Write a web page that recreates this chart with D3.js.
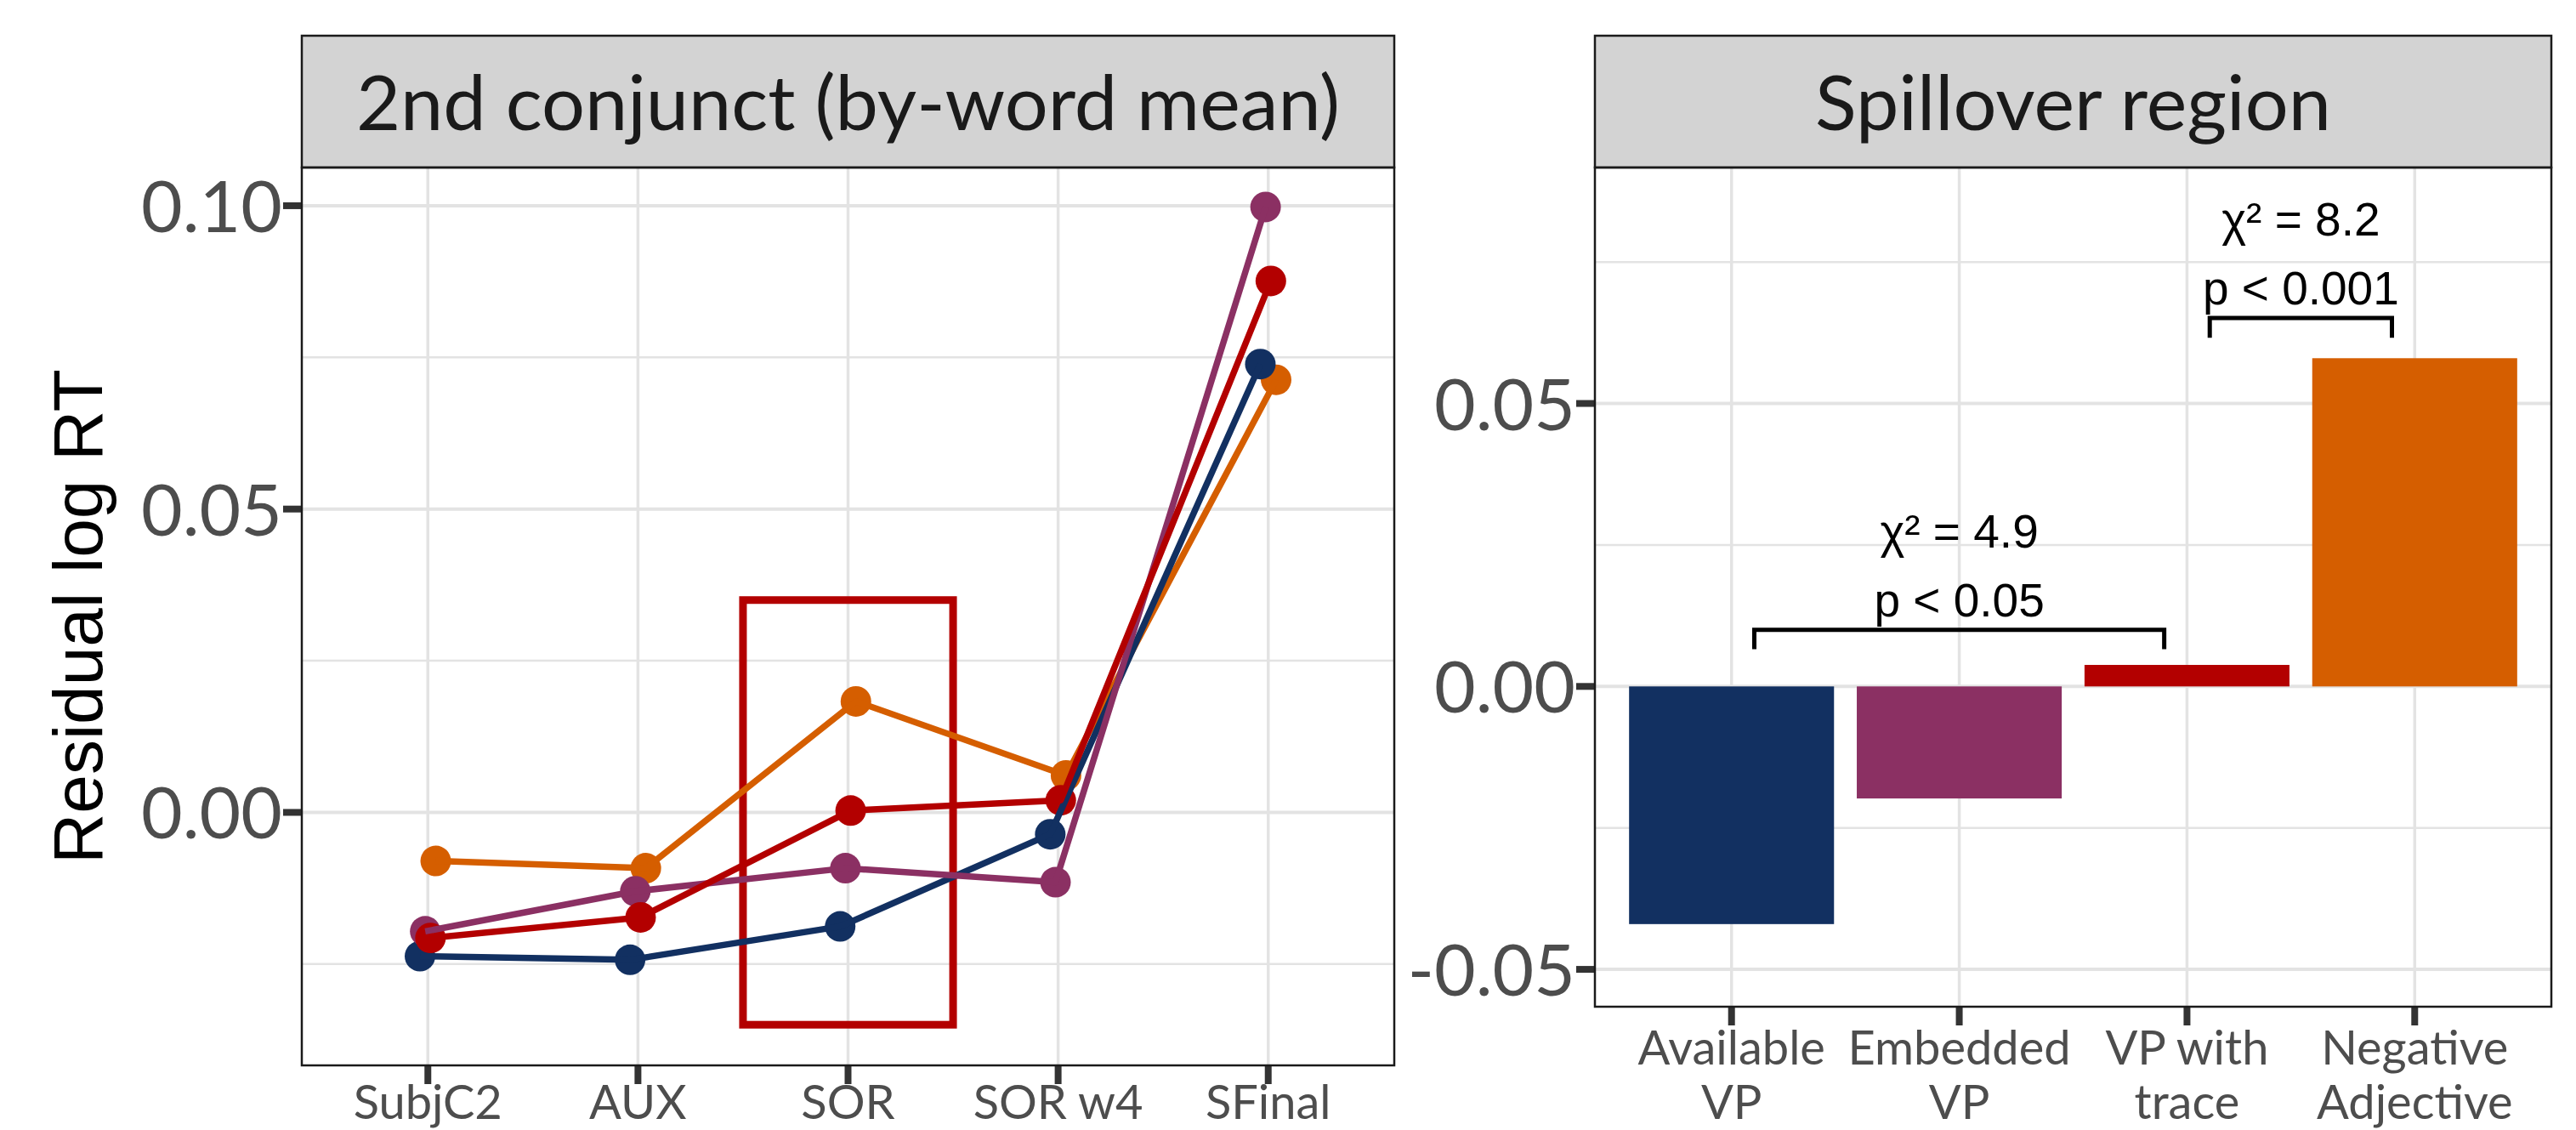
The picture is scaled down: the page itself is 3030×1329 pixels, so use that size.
<!DOCTYPE html>
<html>
<head>
<meta charset="utf-8">
<script src="https://cdn.jsdelivr.net/npm/d3@7"></script>
<style>
  html, body { margin: 0; padding: 0; background: #ffffff; }
  svg { display: block; }
</style>
</head>
<body>
<svg id="chart" width="3030" height="1329"></svg>
<script>
// ---------------- DATA ----------------
const lineCategories = ["SubjC2", "AUX", "SOR", "SOR w4", "SFinal"];
const seriesNames = ["Available VP", "Embedded VP", "VP with trace", "Negative Adjective"];
const seriesColors = ["#123061", "#8B3063", "#B30000", "#D55E00"];
const availableVP = [-0.0237, -0.0243, -0.0188, -0.0036, 0.0739];
const embeddedVP = [-0.0196, -0.0130, -0.0092, -0.0115, 0.0998];
const vpWithTrace = [-0.0207, -0.0173, 0.0003, 0.0020, 0.0876];
const negativeAdjective = [-0.0080, -0.0092, 0.0183, 0.0061, 0.0713];
const drawOrder = [3, 0, 1, 2];

const leftTicks = [0.00, 0.05, 0.10];
const leftTickLabels = ["0.00", "0.05", "0.10"];
const leftMinor = [-0.025, 0.025, 0.075];
const highlightBox = { xmin: 2.5, xmax: 3.5, ymin: -0.035, ymax: 0.035 };

const barCategories = [["Available", "VP"], ["Embedded", "VP"], ["VP with", "trace"], ["Negative", "Adjective"]];
const barValues = [-0.0420, -0.0198, 0.0038, 0.0580];
const rightTicks = [-0.05, 0.00, 0.05];
const rightTickLabels = ["-0.05", "0.00", "0.05"];
const rightMinor = [-0.025, 0.025, 0.075];

const bracketFrom = [1.1, 3.1];
const bracketTo = [2.9, 3.9];
const bracketY = [0.0100, 0.0651];
const bracketTip = [0.0066, 0.0616];
const bracketChi = ["χ² = 4.9", "χ² = 8.2"];
const bracketP = ["p < 0.05", "p < 0.001"];

const stripTitles = ["2nd conjunct (by-word mean)", "Spillover region"];
const yTitle = "Residual log RT";

// ---------------- LAYOUT ----------------
const svg = d3.select("#chart");
const STRIP_TOP = 42, STRIP_BOTTOM = 197;
const L = { x0: 355, x1: 1640, bottom: 1253 };
const R = { x0: 1876, x1: 3001, bottom: 1184 };
const GRID = "#E3E3E3";
const TICK_LEN = 22;
const TICK_FONT = "Lato, 'Open Sans', sans-serif";

// scales
const xL = d3.scalePoint().domain(lineCategories).range([L.x0, L.x1]).padding(0.6);
const xLc = d3.scaleLinear().domain([0.4, lineCategories.length + 0.6]).range([L.x0, L.x1]);
const yL = d3.scaleLinear().domain([-0.0417, 0.1063]).range([L.bottom, STRIP_BOTTOM]);

const xRc = d3.scaleLinear().domain([0.4, barValues.length + 0.6]).range([R.x0, R.x1]);
const yR = d3.scaleLinear().domain([-0.0566, 0.0917]).range([R.bottom, STRIP_BOTTOM]);

function drawPanel(P, xPositions, y, majors, minors, tickLabels, title) {
  const g = svg.append("g");
  g.selectAll(".minor").data(minors).enter().append("line")
    .attr("x1", P.x0).attr("x2", P.x1).attr("y1", d => y(d)).attr("y2", d => y(d))
    .attr("stroke", GRID).attr("stroke-width", 2.5);
  g.selectAll(".major").data(majors).enter().append("line")
    .attr("x1", P.x0).attr("x2", P.x1).attr("y1", d => y(d)).attr("y2", d => y(d))
    .attr("stroke", GRID).attr("stroke-width", 4);
  g.selectAll(".vmajor").data(xPositions).enter().append("line")
    .attr("x1", d => d).attr("x2", d => d).attr("y1", STRIP_BOTTOM).attr("y2", P.bottom)
    .attr("stroke", GRID).attr("stroke-width", 3.5);
  g.selectAll(".yt").data(majors).enter().append("line")
    .attr("x1", P.x0 - TICK_LEN).attr("x2", P.x0).attr("y1", d => y(d)).attr("y2", d => y(d))
    .attr("stroke", "#333333").attr("stroke-width", 8);
  g.selectAll(".yl").data(majors).enter().append("text")
    .attr("x", P.x0 - TICK_LEN - 1).attr("y", d => y(d) + 31)
    .attr("text-anchor", "end").attr("font-family", TICK_FONT).attr("font-size", 84)
    .attr("fill", "#4D4D4D").text((d, i) => tickLabels[i]);
  g.selectAll(".xt").data(xPositions).enter().append("line")
    .attr("x1", d => d).attr("x2", d => d).attr("y1", P.bottom).attr("y2", P.bottom + TICK_LEN)
    .attr("stroke", "#333333").attr("stroke-width", 8);
  g.append("rect").attr("x", P.x0).attr("y", STRIP_TOP).attr("width", P.x1 - P.x0).attr("height", STRIP_BOTTOM - STRIP_TOP)
    .attr("fill", "#D3D3D3").attr("stroke", "#1A1A1A").attr("stroke-width", 2.5);
  g.append("text").attr("x", (P.x0 + P.x1) / 2).attr("y", 153).attr("text-anchor", "middle")
    .attr("font-family", TICK_FONT).attr("font-size", 90).attr("fill", "#1A1A1A").text(title);
  return g;
}

// ---------------- LEFT PANEL ----------------
const leftXs = lineCategories.map(c => xL(c));
drawPanel(L, leftXs, yL, leftTicks, leftMinor, leftTickLabels, stripTitles[0]);

svg.append("g").selectAll("text").data(lineCategories).enter().append("text")
  .attr("x", d => xL(d)).attr("y", 1316).attr("text-anchor", "middle")
  .attr("font-family", TICK_FONT).attr("font-size", 56).attr("fill", "#4D4D4D").text(d => d);

svg.append("rect")
  .attr("x", xLc(highlightBox.xmin)).attr("y", yL(highlightBox.ymax))
  .attr("width", xLc(highlightBox.xmax) - xLc(highlightBox.xmin))
  .attr("height", yL(highlightBox.ymin) - yL(highlightBox.ymax))
  .attr("fill", "none").attr("stroke", "#B30000").attr("stroke-width", 9);

const allSeries = [availableVP, embeddedVP, vpWithTrace, negativeAdjective];
const dodge = [-0.0375, -0.0125, 0.0125, 0.0375];
const lineGen = d3.line().x(d => d.x).y(d => d.y);
const seriesPts = allSeries.map((vals, si) => vals.map((v, ci) => ({
  x: xLc(ci + 1 + dodge[si]), y: yL(v)
})));
const gLines = svg.append("g");
drawOrder.forEach(si => {
  gLines.append("g").selectAll("circle").data(seriesPts[si]).enter().append("circle")
    .attr("cx", d => d.x).attr("cy", d => d.y).attr("r", 18).attr("fill", seriesColors[si]);
});
drawOrder.forEach(si => {
  gLines.append("path").datum(seriesPts[si]).attr("d", lineGen).attr("fill", "none")
    .attr("stroke", seriesColors[si]).attr("stroke-width", 7.5).attr("stroke-linejoin", "round");
});

svg.append("rect").attr("x", L.x0).attr("y", STRIP_BOTTOM).attr("width", L.x1 - L.x0).attr("height", L.bottom - STRIP_BOTTOM)
  .attr("fill", "none").attr("stroke", "#1A1A1A").attr("stroke-width", 2.5);

svg.append("text").attr("transform", `translate(120, ${(STRIP_BOTTOM + L.bottom) / 2}) rotate(-90)`)
  .attr("text-anchor", "middle").attr("font-family", "'Liberation Sans', Arial, sans-serif")
  .attr("font-size", 82).attr("fill", "#000000").text(yTitle);

// ---------------- RIGHT PANEL ----------------
const rightXs = barValues.map((v, i) => xRc(i + 1));
drawPanel(R, rightXs, yR, rightTicks, rightMinor, rightTickLabels, stripTitles[1]);

const barW = 0.9 * (xRc(2) - xRc(1));
svg.append("g").selectAll("rect").data(barValues).enter().append("rect")
  .attr("x", (d, i) => xRc(i + 1) - barW / 2)
  .attr("y", d => yR(Math.max(0, d)))
  .attr("width", barW)
  .attr("height", d => Math.abs(yR(d) - yR(0)))
  .attr("fill", (d, i) => seriesColors[i]);

const xlab = svg.append("g").selectAll("text").data(barCategories).enter().append("text")
  .attr("text-anchor", "middle").attr("font-family", TICK_FONT).attr("font-size", 56).attr("fill", "#4D4D4D");
xlab.each(function(d, i) {
  const t = d3.select(this);
  d.forEach((line, li) => {
    t.append("tspan").attr("x", xRc(i + 1)).attr("y", 1252 + li * 64).text(line);
  });
});

const ann = svg.append("g");
bracketY.forEach((by, i) => {
  const xa = xRc(bracketFrom[i]), xb = xRc(bracketTo[i]);
  const yb = yR(by), yt = yR(bracketTip[i]);
  ann.append("path").attr("d", `M${xa},${yt}L${xa},${yb}L${xb},${yb}L${xb},${yt}`)
    .attr("fill", "none").attr("stroke", "#000000").attr("stroke-width", 5);
  const cx = (xa + xb) / 2;
  ann.append("text").attr("x", cx).attr("y", yb - 16).attr("text-anchor", "middle")
    .attr("font-family", "'Liberation Sans', Arial, sans-serif").attr("font-size", 55).attr("fill", "#000").text(bracketP[i]);
  ann.append("text").attr("x", cx).attr("y", yb - 97).attr("text-anchor", "middle")
    .attr("font-family", "'Liberation Sans', Arial, sans-serif").attr("font-size", 55).attr("fill", "#000").text(bracketChi[i]);
});

svg.append("rect").attr("x", R.x0).attr("y", STRIP_BOTTOM).attr("width", R.x1 - R.x0).attr("height", R.bottom - STRIP_BOTTOM)
  .attr("fill", "none").attr("stroke", "#1A1A1A").attr("stroke-width", 2.5);
</script>
</body>
</html>
